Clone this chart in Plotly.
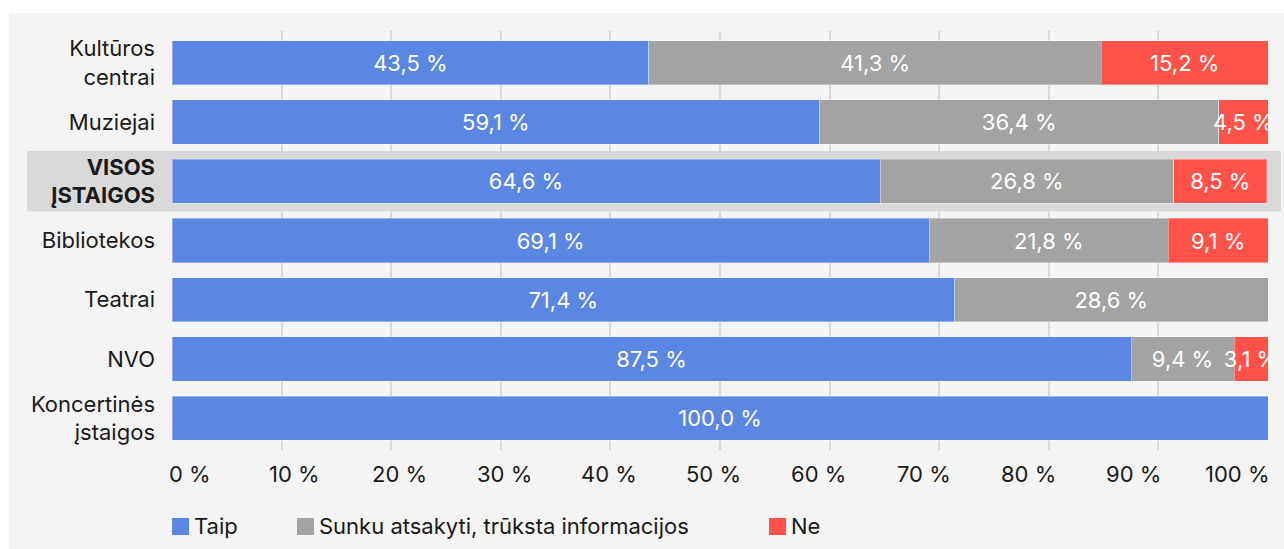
import plotly.graph_objects as go

categories = ['Kultūros<br>centrai', 'Muziejai', '<b>VISOS<br>ĮSTAIGOS</b>', 'Bibliotekos',
              'Teatrai', 'NVO', 'Koncertinės<br>įstaigos']
taip = [43.5, 59.1, 64.6, 69.1, 71.4, 87.5, 100.0]
sunku = [41.3, 36.4, 26.8, 21.8, 28.6, 9.4, 0.0]
ne = [15.2, 4.5, 8.5, 9.1, 0.0, 3.1, 0.0]
series_names = ['Taip', 'Sunku atsakyti, trūksta informacijos', 'Ne']
x_ticks = list(range(0, 101, 10))
x_tick_labels = [f"{v} %" for v in x_ticks]

COLORS = ['#5b87e3', '#a3a3a3', '#ff5349']
FONT = 'Inter, Roboto, sans-serif'
FS = 22
TEXT = '#1a1a1a'

# plot area in pixels (1284 x 549 page)
L, R, T, B = 172, 16, 31, 99
W, H = 1284 - L - R, 549 - T - B

# the tick labels are spread evenly from the left edge to the right edge
# of the axis (first one left aligned, last one right aligned)
label_pos = [1.64 + i * 9.562 for i in range(len(x_ticks))]


def px_x(p):
    return (p - L) / W


def px_y(p):
    return (549 - B - p) / H


def fmt(v):
    return f"{v:.1f} %".replace('.', ',') if v > 0 else ''


fig = go.Figure()
for name, vals, color in zip(series_names, [taip, sunku, ne], COLORS):
    fig.add_trace(go.Bar(
        y=categories, x=vals, name=name, orientation='h',
        marker={'color': color, 'line': {'color': 'rgba(255,255,255,0.35)', 'width': 1}},
        text=[fmt(v) for v in vals], textposition='inside', insidetextanchor='middle',
        textangle=0, constraintext='none',
        textfont={'size': FS, 'color': 'white', 'family': FONT},
        showlegend=False,
    ))

shapes = [
    # grey panel
    dict(type='rect', xref='paper', yref='paper', x0=px_x(9), x1=px_x(1290),
         y0=px_y(560), y1=px_y(13), fillcolor='#f4f4f4', line={'width': 0}, layer='below'),
    # highlight band for the total row
    dict(type='rect', xref='paper', yref='y', x0=px_x(27), x1=px_x(1281),
         y0=1.49, y1=2.51, fillcolor='#d9d9d9', line={'width': 0}, layer='below'),
]
annotations = []

# x tick labels
for pos, lab in zip(label_pos, x_tick_labels):
    annotations.append(dict(xref='x', yref='paper', x=pos, y=px_y(474), text=lab,
                            showarrow=False, xanchor='center', yanchor='middle',
                            font={'size': FS, 'color': TEXT, 'family': FONT}))

# manual legend
legend_x = [172, 297, 769]
for lx, name, color in zip(legend_x, series_names, COLORS):
    shapes.append(dict(type='rect', xref='paper', yref='paper', x0=px_x(lx), x1=px_x(lx + 17),
                       y0=px_y(535), y1=px_y(518), fillcolor=color, line={'width': 0}))
    annotations.append(dict(xref='paper', yref='paper', x=px_x(lx + 20), y=px_y(526),
                            text=name, showarrow=False, xanchor='left', yanchor='middle',
                            font={'size': FS, 'color': TEXT, 'family': FONT}))

fig.update_layout(
    barmode='stack', bargap=0.257,
    width=1284, height=549,
    paper_bgcolor='white', plot_bgcolor='rgba(0,0,0,0)',
    margin={'l': L, 'r': R, 't': T, 'b': B},
    shapes=shapes, annotations=annotations,
    font={'family': FONT, 'color': TEXT},
    xaxis=dict(range=[0, 100], tickvals=x_ticks, showticklabels=False, showgrid=True,
               gridcolor='#d9d9d9', gridwidth=2, zeroline=False, showline=False),
    yaxis=dict(range=[6.536, -0.536], showgrid=False, showline=False, ticklabelstandoff=16,
               tickfont={'size': FS, 'color': TEXT, 'family': FONT}),
)

fig.write_html("out.html", post_script="document.body.style.margin='0';",
               config={'displayModeBar': False})
